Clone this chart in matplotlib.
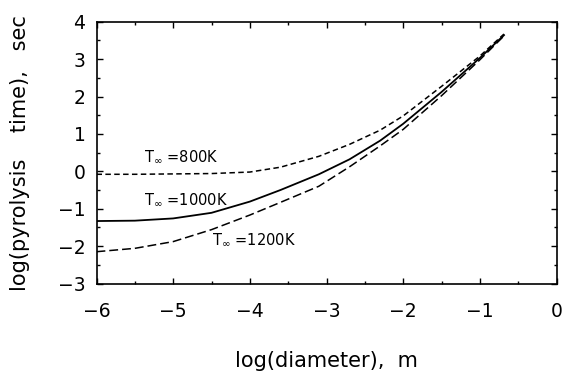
import matplotlib
matplotlib.use("Agg")
import matplotlib.pyplot as plt
from matplotlib.ticker import MultipleLocator

plt.rcParams['font.family'] = ['DejaVu Sans']
plt.rcParams['mathtext.fontset'] = 'dejavusans'

# values
d_800 = [-6.0, -5.5, -5.0, -4.5, -4.0, -3.6, -3.1, -2.7, -2.3, -2.0, -1.5, -1.0, -0.685]
t_800 = [-0.08, -0.08, -0.07, -0.06, -0.02, 0.11, 0.40, 0.72, 1.10, 1.48, 2.27, 3.08, 3.67]

d_1000 = [-6.0, -5.5, -5.0, -4.5, -4.0, -3.6, -3.1, -2.7, -2.3, -2.0, -1.5, -1.0, -0.685]
t_1000 = [-1.33, -1.32, -1.26, -1.11, -0.81, -0.50, -0.08, 0.32, 0.82, 1.27, 2.12, 3.03, 3.64]

d_1200 = [-6.0, -5.5, -5.0, -4.5, -4.0, -3.6, -3.1, -2.7, -2.3, -2.0, -1.5, -1.0, -0.685]
t_1200 = [-2.15, -2.06, -1.88, -1.56, -1.17, -0.83, -0.40, 0.12, 0.68, 1.12, 2.02, 2.98, 3.62]

labels = ['T$_\\infty$ =800K', 'T$_\\infty$ =1000K', 'T$_\\infty$ =1200K']
label_pos = [(-5.38, 0.39), (-5.38, -0.77), (-4.50, -1.84)]

fig = plt.figure(figsize=(5.71, 3.74), dpi=100)
# axes box placed in pixels: left 96.5, right 556.5, top 21.7, bottom 283.5
ax = fig.add_axes([96.5 / 571, 1 - 283.5 / 374, 460 / 571, 261.8 / 374])

ax.plot(d_800, t_800, color='black', lw=1.1, dashes=(3.6, 2.2))
ax.plot(d_1000, t_1000, color='black', lw=1.3)
ax.plot(d_1200, t_1200, color='black', lw=1.1, dashes=(5.8, 2.6))

for txt, (x, y) in zip(labels, label_pos):
    ax.text(x, y, txt, fontsize=10.5, va='center', ha='left')

ax.set_xlim(-6, 0)
ax.set_ylim(-3, 4)
ax.xaxis.set_major_locator(MultipleLocator(1))
ax.xaxis.set_minor_locator(MultipleLocator(0.5))
ax.yaxis.set_major_locator(MultipleLocator(1))
ax.yaxis.set_minor_locator(MultipleLocator(0.5))
ax.tick_params(which='both', direction='in', top=True, right=True, width=1)
ax.tick_params(which='major', length=4)
ax.tick_params(which='minor', length=2.5)
ax.tick_params(axis='x', pad=13, labelsize=13.5)
ax.tick_params(axis='y', pad=8, labelsize=13.5)
for s in ax.spines.values():
    s.set_linewidth(1.2)

ax.set_xlabel('log(diameter),  m', fontsize=15, labelpad=22)
ax.set_ylabel('log(pyrolysis    time),   sec', fontsize=15, labelpad=20)

fig.savefig('out.png', dpi=100)
